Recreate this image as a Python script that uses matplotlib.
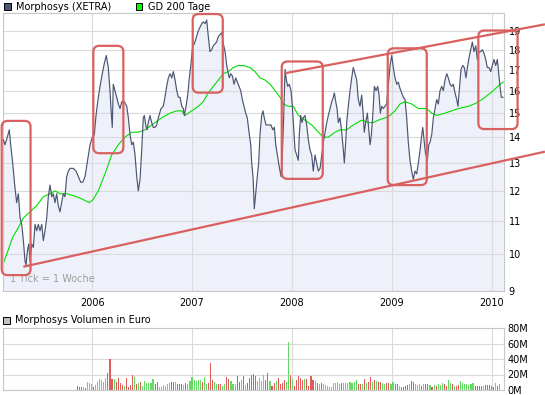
import numpy as np
import matplotlib.pyplot as plt
from matplotlib.patches import FancyBboxPatch, Rectangle
from matplotlib.ticker import NullLocator
from matplotlib.transforms import IdentityTransform

# weekly close, Morphosys (XETRA)
price_years = [
    2005.108, 2005.125, 2005.148, 2005.168, 2005.182, 2005.202, 2005.222, 2005.242, 2005.259, 2005.276,
    2005.293, 2005.309, 2005.326, 2005.336, 2005.349, 2005.363, 2005.376, 2005.393, 2005.409, 2005.426,
    2005.443, 2005.459, 2005.476, 2005.493, 2005.509, 2005.526, 2005.543, 2005.559, 2005.576, 2005.593,
    2005.609, 2005.626, 2005.643, 2005.659, 2005.676, 2005.693, 2005.709, 2005.726, 2005.743, 2005.760,
    2005.777, 2005.794, 2005.810, 2005.837, 2005.860, 2005.884, 2005.904, 2005.927, 2005.952, 2005.977,
    2006.000, 2006.020, 2006.037, 2006.054, 2006.077, 2006.100, 2006.120, 2006.140, 2006.160, 2006.177,
    2006.187, 2006.200, 2006.210, 2006.227, 2006.244, 2006.261, 2006.278, 2006.295, 2006.321, 2006.345,
    2006.361, 2006.378, 2006.395, 2006.411, 2006.428, 2006.445, 2006.461, 2006.478, 2006.495, 2006.511,
    2006.521, 2006.535, 2006.548, 2006.561, 2006.578, 2006.595, 2006.611, 2006.628, 2006.645, 2006.661,
    2006.688, 2006.711, 2006.728, 2006.745, 2006.762, 2006.779, 2006.796, 2006.812, 2006.829, 2006.846,
    2006.862, 2006.879, 2006.896, 2006.912, 2006.922, 2006.939, 2006.956, 2006.972, 2006.989, 2007.006,
    2007.022, 2007.039, 2007.062, 2007.079, 2007.096, 2007.112, 2007.129, 2007.146, 2007.162, 2007.179,
    2007.196, 2007.212, 2007.229, 2007.246, 2007.263, 2007.280, 2007.297, 2007.313, 2007.330, 2007.347,
    2007.363, 2007.373, 2007.387, 2007.403, 2007.420, 2007.437, 2007.453, 2007.470, 2007.487, 2007.503,
    2007.520, 2007.537, 2007.553, 2007.570, 2007.587, 2007.597, 2007.610, 2007.623, 2007.637, 2007.653,
    2007.667, 2007.680, 2007.697, 2007.710, 2007.723, 2007.740, 2007.757, 2007.774, 2007.791, 2007.808,
    2007.824, 2007.838, 2007.854, 2007.871, 2007.891, 2007.904, 2007.918, 2007.931, 2007.944, 2007.958,
    2007.974, 2007.991, 2008.004, 2008.018, 2008.031, 2008.048, 2008.064, 2008.074, 2008.088, 2008.101,
    2008.114, 2008.131, 2008.148, 2008.164, 2008.181, 2008.198, 2008.214, 2008.231, 2008.248, 2008.265,
    2008.282, 2008.299, 2008.315, 2008.332, 2008.349, 2008.365, 2008.382, 2008.399, 2008.415, 2008.425,
    2008.439, 2008.452, 2008.465, 2008.482, 2008.499, 2008.515, 2008.525, 2008.539, 2008.549, 2008.565,
    2008.582, 2008.599, 2008.615, 2008.632, 2008.649, 2008.665, 2008.682, 2008.699, 2008.715, 2008.725,
    2008.739, 2008.756, 2008.770, 2008.783, 2008.796, 2008.810, 2008.826, 2008.843, 2008.860, 2008.873,
    2008.886, 2008.900, 2008.916, 2008.933, 2008.950, 2008.960, 2008.973, 2008.983, 2009.000, 2009.016,
    2009.033, 2009.050, 2009.066, 2009.083, 2009.100, 2009.116, 2009.133, 2009.150, 2009.166, 2009.183,
    2009.200, 2009.216, 2009.233, 2009.250, 2009.267, 2009.284, 2009.301, 2009.311, 2009.324, 2009.337,
    2009.357, 2009.371, 2009.384, 2009.401, 2009.417, 2009.434, 2009.451, 2009.467, 2009.484, 2009.501,
    2009.517, 2009.534, 2009.551, 2009.567, 2009.584, 2009.601, 2009.617, 2009.634, 2009.651, 2009.664,
    2009.677, 2009.694, 2009.711, 2009.727, 2009.744, 2009.758, 2009.775, 2009.792, 2009.808, 2009.825,
    2009.842, 2009.858, 2009.875, 2009.892, 2009.908, 2009.925, 2009.942, 2009.958, 2009.975, 2009.992,
    2010.008, 2010.025, 2010.042, 2010.058, 2010.072, 2010.085, 2010.098, 2010.115,
]
price_values = [
    13.9, 13.7, 14.0, 14.3, 13.7, 13.0, 12.2, 11.6, 11.9, 11.1,
    10.9, 10.4, 9.8, 9.7, 10.1, 10.3, 9.8, 10.3, 10.2, 10.9,
    10.7, 10.9, 10.7, 10.9, 10.4, 10.7, 11.1, 11.8, 12.2, 11.8,
    11.9, 11.6, 11.9, 11.5, 11.3, 11.6, 11.9, 11.8, 12.5, 12.7,
    12.8, 12.8, 12.8, 12.7, 12.5, 12.3, 12.3, 12.5, 13.1, 13.7,
    14.0, 14.1, 14.9, 15.5, 16.2, 16.8, 17.3, 17.7, 17.1, 16.0,
    15.2, 14.4, 16.3, 16.0, 15.7, 15.4, 15.2, 15.5, 15.5, 15.3,
    14.8, 14.1, 13.7, 13.8, 13.3, 12.5, 12.0, 12.4, 13.5, 14.8,
    14.9, 14.5, 14.3, 14.6, 14.9, 14.6, 14.4, 14.4, 14.5, 14.8,
    15.2, 15.3, 15.7, 16.2, 16.6, 16.8, 16.6, 16.9, 16.5, 16.0,
    15.7, 15.7, 15.3, 15.2, 14.9, 15.3, 15.8, 16.6, 17.3, 18.2,
    18.3, 18.6, 19.0, 19.2, 19.4, 19.5, 19.4, 19.6, 18.7, 17.9,
    18.0, 18.2, 18.3, 18.4, 18.7, 18.8, 18.9, 18.3, 17.9, 17.2,
    16.8, 16.6, 16.8, 16.7, 16.3, 16.6, 16.4, 16.2, 16.0, 15.6,
    15.3, 15.0, 14.8, 14.2, 13.7, 13.0, 12.5, 11.4, 11.9, 12.5,
    13.0, 14.1, 14.9, 15.1, 14.8, 14.5, 14.5, 14.5, 14.5, 14.3,
    14.4, 13.7, 13.3, 12.9, 12.5, 13.3, 14.9, 17.0, 16.5, 16.2,
    16.3, 16.0, 15.3, 14.3, 13.5, 13.3, 13.1, 14.1, 14.9, 14.6,
    14.8, 14.9, 14.5, 13.9, 13.5, 13.3, 12.7, 13.3, 13.0, 12.7,
    12.8, 13.3, 13.8, 14.2, 14.6, 14.9, 15.2, 15.5, 15.7, 15.9,
    15.5, 15.2, 14.6, 14.8, 14.2, 13.5, 13.0, 13.8, 14.6, 15.3,
    16.0, 16.6, 17.1, 16.8, 16.5, 15.6, 15.3, 15.8, 14.9, 14.2,
    14.6, 15.0, 14.3, 13.7, 14.1, 14.9, 16.2, 16.0, 16.2, 15.8,
    15.0, 15.3, 15.2, 15.3, 15.4, 16.0, 16.6, 17.2, 17.7, 17.1,
    16.6, 16.3, 16.4, 16.1, 15.9, 15.7, 15.6, 14.8, 13.8, 13.1,
    12.7, 12.4, 12.7, 12.6, 13.0, 13.5, 14.1, 14.4, 13.9, 13.4,
    13.1, 13.7, 13.8, 14.1, 14.8, 15.2, 15.6, 15.4, 16.0, 16.2,
    16.0, 16.5, 16.8, 16.6, 16.3, 16.2, 16.3, 15.9, 15.6, 15.3,
    16.0, 17.0, 17.2, 17.1, 16.6, 17.1, 17.6, 18.0, 18.4, 17.9,
    18.2, 17.5, 17.9, 17.9, 18.0, 17.8, 17.5, 17.1, 17.1, 16.9,
    17.2, 17.5, 17.2, 17.5, 16.8, 16.2, 15.7, 15.7,
]

# GD 200 Tage
gd200_years = [
    2005.102, 2005.142, 2005.202, 2005.259, 2005.309, 2005.376, 2005.443, 2005.509, 2005.576, 2005.626,
    2005.676, 2005.743, 2005.843, 2005.910, 2005.970, 2006.007, 2006.060, 2006.127, 2006.194, 2006.261,
    2006.328, 2006.395, 2006.461, 2006.528, 2006.595, 2006.695, 2006.779, 2006.846, 2006.896, 2006.929,
    2006.996, 2007.062, 2007.112, 2007.162, 2007.212, 2007.263, 2007.313, 2007.363, 2007.413, 2007.463,
    2007.513, 2007.580, 2007.630, 2007.680, 2007.730, 2007.781, 2007.831, 2007.881, 2007.914, 2007.964,
    2008.014, 2008.064, 2008.131, 2008.198, 2008.265, 2008.315, 2008.365, 2008.432, 2008.482, 2008.549,
    2008.615, 2008.699, 2008.766, 2008.816, 2008.866, 2008.933, 2008.983, 2009.033, 2009.083, 2009.133,
    2009.200, 2009.267, 2009.351, 2009.401, 2009.451, 2009.534, 2009.667, 2009.768, 2009.852, 2009.935,
    2010.018, 2010.085, 2010.118,
]
gd200_values = [
    9.7, 10.0, 10.5, 10.8, 11.1, 11.3, 11.5, 11.8, 11.9, 12.0,
    11.9, 11.9, 11.8, 11.7, 11.6, 11.7, 12.0, 12.6, 13.3, 13.7,
    14.0, 14.2, 14.2, 14.3, 14.5, 14.8, 15.0, 15.1, 15.1, 14.9,
    15.1, 15.3, 15.5, 15.9, 16.2, 16.5, 16.8, 16.9, 17.1, 17.2,
    17.2, 17.1, 16.9, 16.6, 16.5, 16.3, 16.0, 15.7, 15.4, 15.3,
    15.3, 14.9, 14.7, 14.5, 14.2, 14.0, 14.0, 14.2, 14.3, 14.3,
    14.5, 14.7, 14.6, 14.6, 14.7, 14.8, 14.9, 15.1, 15.4, 15.5,
    15.4, 15.2, 15.2, 15.0, 14.9, 15.0, 15.2, 15.3, 15.45, 15.7,
    16.0, 16.3, 16.4,
]

# weekly volume in million Euro
volume_m = [
    5.3, 3.5, 3.5, 4.4, 3, 9.8, 8.9, 8, 3.5, 7,
    10.7, 14.2, 12.4, 10.7, 16, 21.3, 40, 14.2, 14.2, 10.7,
    15.1, 8.9, 6.2, 5.3, 15.1, 4.4, 6.2, 19.6, 16.9, 7.1,
    8.9, 10.7, 5.3, 11.6, 8.9, 8.9, 8.9, 14.2, 8, 9.8,
    4.4, 4.4, 6.2, 5.3, 8, 8.9, 10.7, 9.8, 10.7, 8,
    7.1, 7.1, 6.2, 8.9, 7.1, 11.6, 16.9, 12.4, 11.6, 13.3,
    12.4, 10.7, 16.9, 7.1, 8.9, 34.2, 13.3, 10.7, 8, 7.1,
    7.1, 5.3, 8, 16.9, 14.2, 11.6, 8, 8, 18.7, 10.7,
    12.4, 17.8, 6.2, 8.9, 15.1, 19.6, 20.4, 18.7, 11.6, 16,
    11.6, 19.6, 12.4, 22.2, 11.6, 5.3, 8.9, 11.6, 15.1, 7.1,
    8.9, 12.4, 10.7, 62.2, 19.6, 14.2, 5.3, 12.4, 17.8, 15.1,
    13.3, 14.2, 14.2, 5.3, 17.8, 13.3, 11.6, 8.9, 8, 8.9,
    7.1, 6.2, 5.3, 3.5, 4.4, 8.9, 8.9, 9.8, 8, 8.9,
    8.9, 8.9, 8.9, 9.8, 8.9, 10.7, 12.4, 7.1, 8, 7.1,
    14.2, 8.9, 10.7, 16.9, 9.8, 12.4, 11.6, 9.8, 9.8, 8.9,
    7.1, 8.9, 8.9, 8, 9.8, 7.1, 7.1, 5.3, 4.4, 4.4,
    5.3, 6.2, 7.1, 11.6, 10.7, 8, 6.2, 7.1, 5.3, 7.1,
    7.1, 7.1, 6.2, 4.4, 6.2, 5.3, 7.1, 6.2, 8.9, 7.1,
    5.3, 12.4, 8.9, 7.1, 5.3, 5.3, 6.2, 11.6, 8.9, 8,
    7.1, 6.2, 7.1, 8.9, 5.3, 5.3, 5.3, 5.3, 5.3, 6.2,
    6.2, 6.2, 5.3, 3.5, 8.9, 5.3, 7.1,
]
# r = down week, g = up week
volume_dir = (
    "rrrgrgggrg" "gggggrrrgr" "rrrgrrrrgr" "grggggggrr"
    "ggggggrrgr" "rrgrgggggg" "grggrrrggr" "rggrrgggrr"
    "grgrrrrrgg" "ggrrgrrgrr" "rrggrgrrrr" "rgrrrrgrgr"
    "gggggggggr" "gggggggrrg" "rgrrgrgrrg" "grrggrrgrr"
    "rrgrrgggrg" "rrgrgrgggr" "rggrgrrggg" "ggggrrrrgr"
    "rrrrgrg"
)

years = [2006, 2007, 2008, 2009, 2010]
price_ticks = list(range(9, 20))
volume_ticks = [0, 20, 40, 60, 80]

# marked zones: year from, year to, price low, price high
zones = [
    (2005.092, 2005.381, 9.42, 14.67),
    (2006.010, 2006.311, 13.37, 18.2),
    (2007.006, 2007.307, 15.91, 19.94),
    (2007.898, 2008.309, 12.42, 17.4),
    (2008.960, 2009.351, 12.2, 18.07),
    (2009.868, 2010.261, 14.33, 19.02),
]
# trend channel: year0, price0, year1, price1
channel = [
    (2007.929, 16.82, 2010.535, 19.36),
    (2005.309, 9.65, 2010.535, 13.43),
]

W, H = 545, 395
RED = "#d9605f"
GRID = "#dadada"

fig = plt.figure(figsize=(W / 100, H / 100), dpi=100)
plt.rcParams["font.family"] = "DejaVu Sans"


def box(l, t, r, b):
    return [l / W, 1 - b / H, (r - l) / W, (b - t) / H]


ax = fig.add_axes(box(3, 13, 503.7, 291))
axv = fig.add_axes(box(3, 328, 503.7, 390))

ax.fill_between(price_years, price_values, 9, color="#eef1fa", lw=0, zorder=0.2)
ax.plot(gd200_years, gd200_values, color="#00e000", lw=0.8, zorder=2)
ax.plot(price_years, price_values, color="#4b5672", lw=0.85, zorder=3)
for y0, p0, y1, p1 in channel:
    ax.plot([y0, y1], [p0, p1], color=RED, lw=1.6, clip_on=False, zorder=5,
            solid_capstyle="butt")

ax.set_yscale("log")
ax.set_ylim(9, 20)
ax.set_xlim(2005.105, 2010.122)
ax.set_yticks(price_ticks)
ax.set_yticklabels([str(p) for p in price_ticks])
ax.yaxis.set_minor_locator(NullLocator())
ax.yaxis.tick_right()
ax.set_xticks(years)
ax.set_xticklabels([str(y) for y in years])
ax.tick_params(axis="y", length=0, pad=3.5, labelsize=7)
ax.tick_params(axis="x", length=0, pad=5, labelsize=7)
ax.grid(True, color=GRID, lw=0.8)
ax.set_axisbelow(True)
for s in ax.spines.values():
    s.set_color("#c8c8c8")
    s.set_linewidth(0.8)
ax.text(0.014, 0.025, "1 Tick = 1 Woche", transform=ax.transAxes, fontsize=7,
        color="#a0a0a0", va="bottom", ha="left")

# rounded boxes drawn in pixels so the corners stay round on the log axis
fig.canvas.draw()
for y0, y1, p0, p1 in zones:
    (x0, b0), (x1, b1) = ax.transData.transform([(y0, p0), (y1, p1)])
    ax.add_patch(FancyBboxPatch((x0, b0), x1 - x0, b1 - b0,
                                boxstyle="round,pad=0,rounding_size=6",
                                transform=IdentityTransform(), fill=False,
                                ec=RED, lw=1.6, clip_on=False, zorder=6))

# volume panel
n = len(volume_m)
vol_x = np.linspace(2005.848, 2010.082, n)
vol_col = ["#e05a5a" if c == "r" else "#62dc62" for c in volume_dir[:n]]
axv.bar(vol_x, volume_m, width=0.011, color=vol_col, lw=0, zorder=2)
axv.set_xlim(2005.105, 2010.122)
axv.set_ylim(0, 80)
axv.set_yticks(volume_ticks)
axv.set_yticklabels([f"{v}M" for v in volume_ticks])
axv.yaxis.tick_right()
axv.set_xticks(years)
axv.set_xticklabels([])
axv.tick_params(axis="both", length=0, pad=2.5, labelsize=7)
axv.grid(True, color=GRID, lw=0.8)
axv.set_axisbelow(True)
for s in axv.spines.values():
    s.set_color("#c8c8c8")
    s.set_linewidth(0.8)


# legends
def legend_item(x, y, face, label):
    fig.patches.append(Rectangle((x / W, 1 - (y + 3.5) / H), 7 / W, 7 / H,
                                 transform=fig.transFigure, fc=face, ec="black",
                                 lw=0.7))
    fig.text((x + 12) / W, 1 - y / H, label, fontsize=7, va="center", ha="left")


legend_item(3.5, 6.5, "#4b5672", "Morphosys (XETRA)")
legend_item(135.5, 6.5, "#00ff00", "GD 200 Tage")
legend_item(3.0, 320.0, "#c0c0c0", "Morphosys Volumen in Euro")

fig.savefig("out.png", dpi=100)
